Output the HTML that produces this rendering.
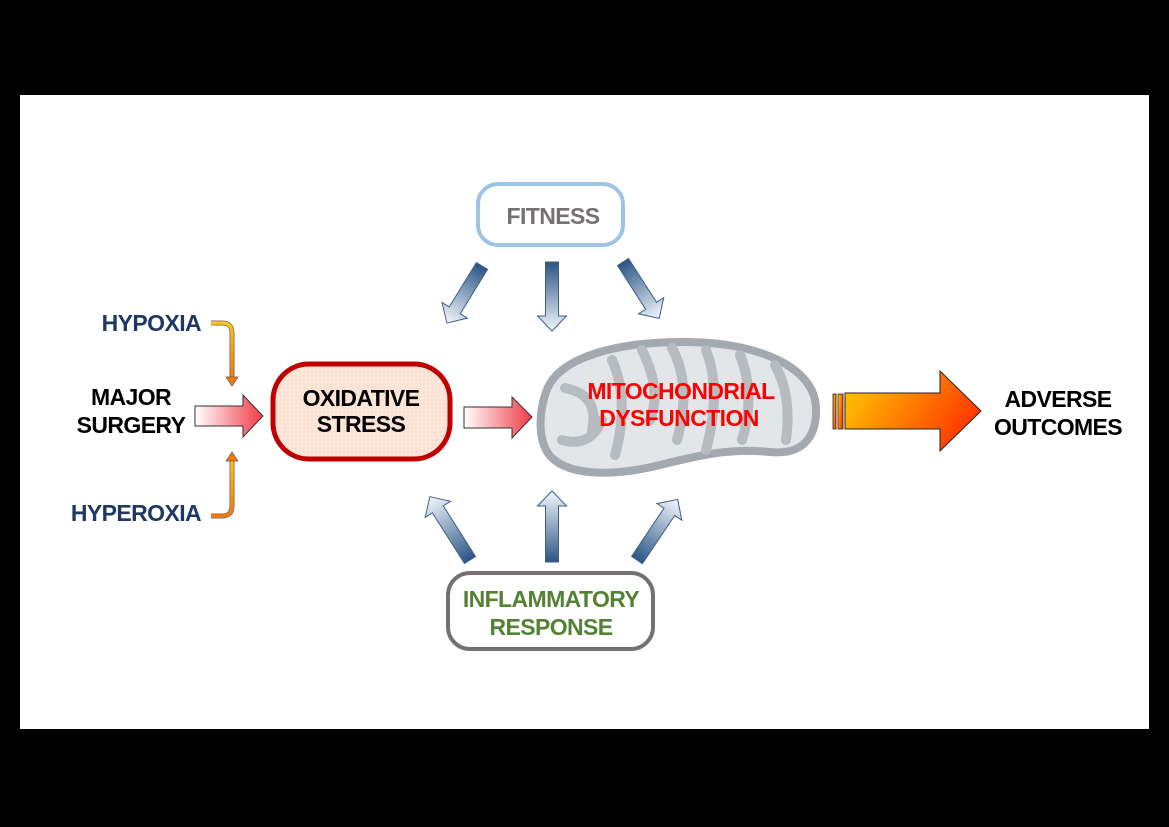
<!DOCTYPE html>
<html><head><meta charset="utf-8"><style>
html,body{margin:0;padding:0;background:#000;}
svg{display:block}
text{font-family:"Liberation Sans",Arial,sans-serif;font-weight:bold;letter-spacing:-0.6px}
</style></head><body>
<svg width="1169" height="827" viewBox="0 0 1169 827" xmlns="http://www.w3.org/2000/svg">
<defs>
<linearGradient id="bl" x1="0" y1="0" x2="1" y2="0">
<stop offset="0" stop-color="#2b5586"/><stop offset="1" stop-color="#f2f7fc"/></linearGradient>
<linearGradient id="rd" x1="0" y1="0" x2="1" y2="0">
<stop offset="0" stop-color="#ffffff"/><stop offset="1" stop-color="#f23b47"/></linearGradient>
<linearGradient id="or" x1="0" y1="0" x2="1" y2="0.4">
<stop offset="0" stop-color="#ffd000"/><stop offset="1" stop-color="#ff3c00"/></linearGradient>
<linearGradient id="oc" x1="0" y1="0" x2="0" y2="1">
<stop offset="0" stop-color="#f7c325"/><stop offset="1" stop-color="#f07a10"/></linearGradient>
<pattern id="dots" width="4" height="4" patternUnits="userSpaceOnUse">
<rect width="4" height="4" fill="#fbe2d3"/><circle cx="2" cy="2" r="0.8" fill="#fff4ee"/></pattern>
</defs>
<rect x="20" y="95" width="1129" height="634" fill="#fff"/>

<!-- Fitness -->
<rect x="478" y="184" width="145" height="61" rx="20" fill="#fff" stroke="#9dc3e6" stroke-width="4"/>
<text x="553" y="224" text-anchor="middle" font-size="23" fill="#767171">FITNESS</text>

<!-- Inflammatory -->
<rect x="448" y="573" width="205" height="76" rx="22" fill="#fff" stroke="#767171" stroke-width="4"/>
<text x="551" y="607" text-anchor="middle" font-size="23" fill="#548235">INFLAMMATORY</text>
<text x="551" y="635" text-anchor="middle" font-size="23" fill="#548235">RESPONSE</text>

<!-- blue arrows -->
<g stroke="#3d5f85" stroke-width="1" fill="url(#bl)">
<polygon transform="translate(482,266) rotate(121.6)" points="0,-6.5 52,-6.5 52,-15 67,0 52,15 52,6.5 0,6.5"/>
<polygon transform="translate(552,262) rotate(90)" points="0,-6.5 54,-6.5 54,-14.5 69,0 54,14.5 54,6.5 0,6.5"/>
<polygon transform="translate(623,262) rotate(57.3)" points="0,-6.5 52,-6.5 52,-15 67,0 52,15 52,6.5 0,6.5"/>
<polygon transform="translate(470,560) rotate(-122.4)" points="0,-6.5 60,-6.5 60,-15 75,0 60,15 60,6.5 0,6.5"/>
<polygon transform="translate(552,562) rotate(-90)" points="0,-6.5 56,-6.5 56,-14.5 71,0 56,14.5 56,6.5 0,6.5"/>
<polygon transform="translate(637,560) rotate(-56.1)" points="0,-6.5 58,-6.5 58,-15 73,0 58,15 58,6.5 0,6.5"/>
</g>

<!-- left texts -->
<text x="201" y="331" text-anchor="end" font-size="23" fill="#1f3864">HYPOXIA</text>
<text x="201" y="521" text-anchor="end" font-size="23" fill="#1f3864">HYPEROXIA</text>
<text x="131" y="405" text-anchor="middle" font-size="23" fill="#000">MAJOR</text>
<text x="131" y="433" text-anchor="middle" font-size="23" fill="#000">SURGERY</text>

<!-- orange connectors -->
<path d="M211,323 L222,323 Q232,323 232,333 L232,378" fill="none" stroke="#7a6a50" stroke-width="5"/>
<path d="M211,323 L222,323 Q232,323 232,333 L232,378" fill="none" stroke="url(#oc)" stroke-width="3.4"/>
<polygon points="226,377 238,377 232,386" fill="#f07a10" stroke="#6a5040" stroke-width="0.7"/>
<path d="M211,516 L222,516 Q232,516 232,506 L232,460" fill="none" stroke="#7a6a50" stroke-width="5"/>
<path d="M211,516 L222,516 Q232,516 232,506 L232,460" fill="none" stroke="url(#oc)" stroke-width="3.4"/>
<polygon points="226,461 238,461 232,452" fill="#f07a10" stroke="#6a5040" stroke-width="0.7"/>

<!-- red arrows -->
<polygon points="195,406 243,406 243,395 263,416 243,437 243,426 195,426" fill="url(#rd)" stroke="#333" stroke-width="1"/>
<polygon points="464,407 512,407 512,397 532,417 512,438 512,428 464,428" fill="url(#rd)" stroke="#333" stroke-width="1"/>

<!-- oxidative stress -->
<rect x="273" y="364" width="177" height="95" rx="36" fill="url(#dots)" stroke="#c00000" stroke-width="5"/>
<text x="361" y="406" text-anchor="middle" font-size="23" fill="#000">OXIDATIVE</text>
<text x="361" y="432" text-anchor="middle" font-size="23" fill="#000">STRESS</text>

<!-- mitochondrion -->
<path d="M546,392 C558,356 620,341 690,342 C760,343 815,368 816,408 C817,440 800,455 770,452 C730,448 700,455 660,465 C620,475 572,478 551,457 C537,442 539,412 546,392 Z" fill="#e2e6e9" stroke="#a3a9ae" stroke-width="8"/>
<g fill="none" stroke="#b7bcc0" stroke-width="10" stroke-linecap="round">
<path d="M565,388 Q600,395 592,430"/>
<path d="M612,360 Q630,400 615,455"/>
<path d="M642,350 Q662,390 650,420"/>
<path d="M672,348 Q692,385 677,440"/>
<path d="M706,350 Q722,390 706,450"/>
<path d="M740,355 Q756,395 742,440"/>
<path d="M775,365 Q792,395 786,440"/>
<path d="M562,440 Q590,448 602,420"/>
</g>
<text x="681" y="399" text-anchor="middle" font-size="23" fill="#ff0000">MITOCHONDRIAL</text>
<text x="679" y="426" text-anchor="middle" font-size="23" fill="#ff0000">DYSFUNCTION</text>

<!-- orange arrow -->
<rect x="833" y="394" width="3" height="35" fill="url(#or)" stroke="#222" stroke-width="0.8"/>
<rect x="838" y="394" width="5" height="35" fill="url(#or)" stroke="#222" stroke-width="0.8"/>
<polygon points="845,393 940,393 940,371 981,411 940,451 940,429 845,429" fill="url(#or)" stroke="#222" stroke-width="1"/>

<text x="1058" y="407" text-anchor="middle" font-size="23" fill="#000">ADVERSE</text>
<text x="1058" y="435" text-anchor="middle" font-size="23" fill="#000">OUTCOMES</text>
</svg>
</body></html>
